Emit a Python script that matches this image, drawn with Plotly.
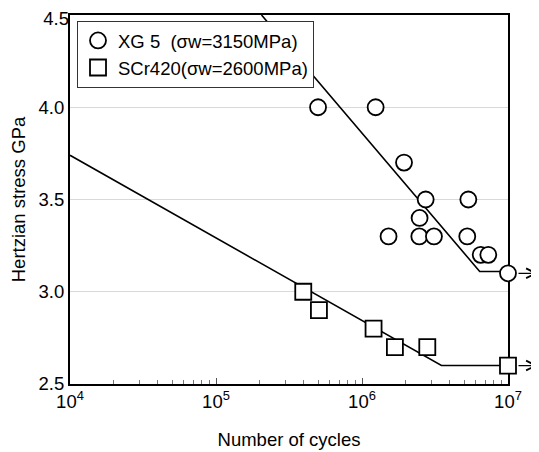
import math
import plotly.graph_objects as go

# ---- data ----
xg5_cycles = [5.0e5, 1.24e6, 1.94e6, 2.73e6, 5.35e6, 2.48e6, 1.52e6, 2.47e6, 3.11e6, 5.26e6, 6.5e6, 7.33e6, 1.0e7]
xg5_stress = [4.0, 4.0, 3.7, 3.5, 3.5, 3.4, 3.3, 3.3, 3.3, 3.3, 3.2, 3.2, 3.1]

scr_cycles = [3.96e5, 5.07e5, 1.2e6, 1.68e6, 2.8e6, 1.0e7]
scr_stress = [3.0, 2.9, 2.8, 2.7, 2.7, 2.6]

xg5_fit_x = [2.05e5, 6.4e6, 1.0e7]
xg5_fit_y = [4.5, 3.11, 3.11]
scr_fit_x = [1.0e4, 3.5e6, 1.0e7]
scr_fit_y = [3.74, 2.6, 2.6]

runout_cycles = [1.0e7, 1.0e7]
runout_stress = [3.1, 2.6]

xg5_name = "XG 5  (σw=3150MPa)"
scr_name = "SCr420(σw=2600MPa)"

x_tickvals = [1e4, 1e5, 1e6, 1e7]
x_ticktext = ["10<sup>4</sup>", "10<sup>5</sup>", "10<sup>6</sup>", "10<sup>7</sup>"]
y_tickvals = [2.5, 3.0, 3.5, 4.0]
y_ticktext = ["2.5", "3.0", "3.5", "4.0"]
y_top_tickvals = [4.5]
y_top_ticktext = ["4.5"]

FONT = "Liberation Sans, Arial, sans-serif"
FS = 18.5
Y_RANGE = [2.5, 4.5]

fig = go.Figure()

fig.add_trace(go.Scatter(x=xg5_fit_x, y=xg5_fit_y, mode="lines",
                         line=dict(color="black", width=1.6), showlegend=False, hoverinfo="skip"))
fig.add_trace(go.Scatter(x=scr_fit_x, y=scr_fit_y, mode="lines",
                         line=dict(color="black", width=1.6), showlegend=False, hoverinfo="skip"))

fig.add_trace(go.Scatter(x=xg5_cycles, y=xg5_stress, mode="markers", name=xg5_name,
                         marker=dict(symbol="circle", size=16, color="white",
                                     line=dict(color="black", width=1.8)),
                         cliponaxis=False))
fig.add_trace(go.Scatter(x=scr_cycles, y=scr_stress, mode="markers", name=scr_name,
                         marker=dict(symbol="square", size=16, color="white",
                                     line=dict(color="black", width=1.8)),
                         cliponaxis=False))
# empty helper trace so the overlay axis (top tick label only) gets drawn
fig.add_trace(go.Scatter(x=[], y=[], yaxis="y2", mode="markers",
                         showlegend=False, hoverinfo="skip"))

for xv, yv in zip(runout_cycles, runout_stress):
    fig.add_annotation(x=math.log10(xv), y=yv, xref="x", yref="y", text="",
                       showarrow=True, arrowhead=5, arrowsize=1.6, arrowwidth=1.2,
                       arrowcolor="black", ax=-21, ay=0, xshift=30)

minor_vals = [m * 10 ** d for d in range(4, 7) for m in range(2, 10)]

# page body has an 8px margin, so the figure is sized to fit the 539x452 window
fig.update_layout(
    width=531, height=444,
    margin=dict(l=62, r=31, t=7, b=68),
    paper_bgcolor="white", plot_bgcolor="white",
    font=dict(family=FONT, size=FS, color="black"),
    showlegend=True,
    legend=dict(x=0.016, y=0.984, xanchor="left", yanchor="top",
                bgcolor="white", bordercolor="#333333", borderwidth=1,
                font=dict(size=FS, family=FONT), tracegroupgap=0, itemwidth=30),
    xaxis=dict(type="log", range=[4, 7], tickvals=x_tickvals, ticktext=x_ticktext,
               ticks="inside", ticklen=6, tickcolor="#555555", tickwidth=1,
               minor=dict(ticks="inside", ticklen=4, tickvals=minor_vals, tickcolor="#777777", showgrid=False),
               showgrid=False, zeroline=False, automargin=False, ticklabeloverflow="allow",
               showline=True, linecolor="black", linewidth=2, mirror=True,
               layer="below traces",
               title=dict(text="Number of cycles", font=dict(size=FS), standoff=22),
               tickfont=dict(size=FS)),
    yaxis=dict(range=Y_RANGE, tickvals=y_tickvals, ticktext=y_ticktext,
               ticks="", showgrid=True, gridcolor="#d9d9d9", gridwidth=1, zeroline=False,
               automargin=False, ticklabeloverflow="allow",
               showline=True, linecolor="black", linewidth=2, mirror=True,
               layer="below traces",
               title=dict(text="Hertzian stress GPa", font=dict(size=FS), standoff=10),
               tickfont=dict(size=FS)),
    yaxis2=dict(overlaying="y", anchor="x", side="left", range=Y_RANGE,
                tickvals=y_top_tickvals, ticktext=y_top_ticktext, ticklabelshift=4,
                ticks="", showgrid=False, zeroline=False, showline=False,
                automargin=False, ticklabeloverflow="allow",
                tickfont=dict(size=FS, family=FONT, color="black")),
)

fig.write_html("out.html")
